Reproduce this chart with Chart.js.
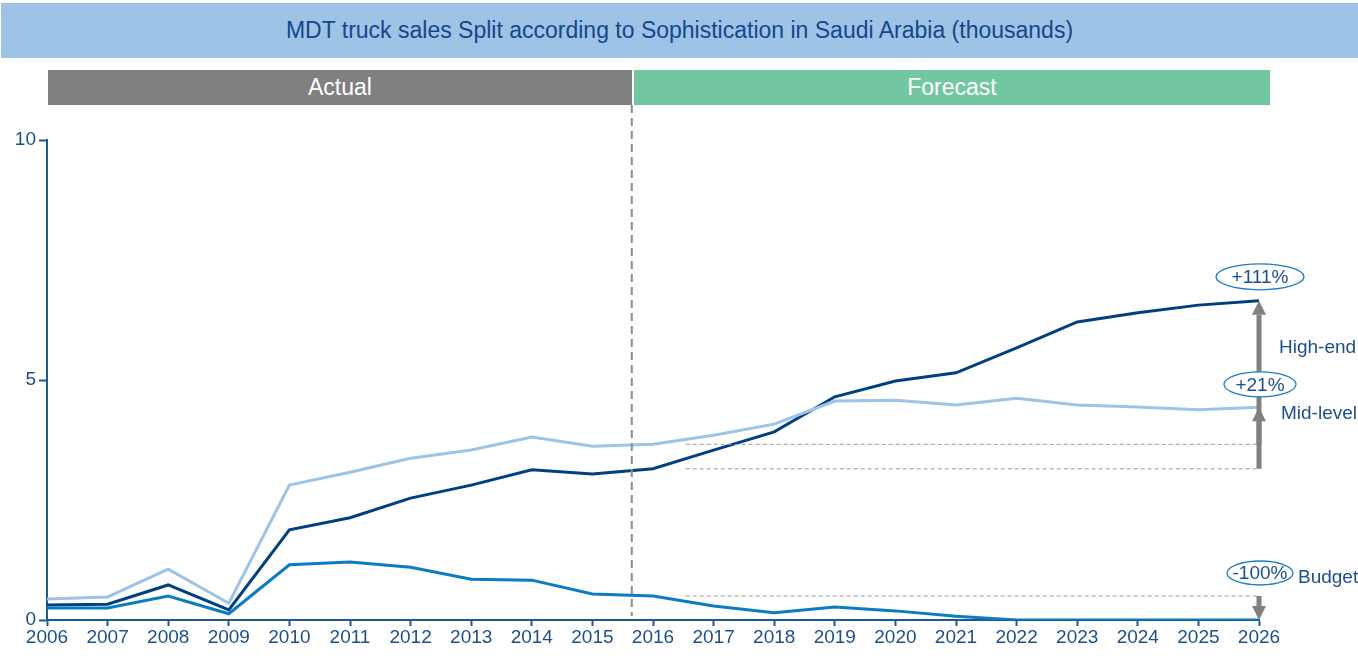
<!DOCTYPE html>
<html>
<head>
<meta charset="utf-8">
<script src="https://cdn.jsdelivr.net/npm/chart.js@4/dist/chart.umd.min.js"></script>
<style>
  body { margin: 0; background: #fff; font-family: "Liberation Sans", Arial, sans-serif; }
  #wrap { position: relative; width: 1358px; height: 658px; }
  .band { position: absolute; display: flex; align-items: center; justify-content: center; }
  #title { left: 1px; top: 3px; width: 1357px; height: 55px; background: #9dc3e6; color: #17478a; font-size: 23px; }
  #actual { left: 48px; top: 70px; width: 584px; height: 35px; background: #808080; color: #fff; font-size: 23px; }
  #forecast { left: 634px; top: 70px; width: 636px; height: 35px; background: #72c7a0; color: #fff; font-size: 23px; }
  canvas { position: absolute; left: 0; top: 0; }
</style>
</head>
<body>
<div id="wrap">
  <canvas id="chart" width="1358" height="658"></canvas>
  <div class="band" id="title">MDT truck sales Split according to Sophistication in Saudi Arabia (thousands)</div>
  <div class="band" id="actual">Actual</div>
  <div class="band" id="forecast">Forecast</div>
</div>
<script>
const years = ["2006", "2007", "2008", "2009", "2010", "2011", "2012", "2013", "2014", "2015", "2016",
               "2017", "2018", "2019", "2020", "2021", "2022", "2023", "2024", "2025", "2026"];
const highEnd = [0.31, 0.33, 0.73, 0.21, 1.88, 2.13, 2.54, 2.81, 3.13, 3.04, 3.15,
                 3.54, 3.92, 4.65, 4.98, 5.15, 5.67, 6.21, 6.40, 6.56, 6.65];
const midLevel = [0.44, 0.48, 1.06, 0.35, 2.81, 3.08, 3.37, 3.54, 3.81, 3.62, 3.66,
                  3.85, 4.08, 4.56, 4.58, 4.48, 4.62, 4.48, 4.44, 4.38, 4.43];
const budget = [0.25, 0.25, 0.50, 0.13, 1.15, 1.21, 1.10, 0.85, 0.83, 0.54, 0.50,
                0.29, 0.15, 0.27, 0.19, 0.08, 0, 0, 0, 0, 0];
const yTicks = [0, 5, 10];
const growthLabels = ["+111%", "+21%", "-100%"];
const seriesNames = ["High-end", "Mid-level", "Budget"];

const axisColor = "#1c5a96";
const textColor = "#1d4f8b";
const font = "'Liberation Sans', Arial, sans-serif";

// dashed split line, comparison guides, arrows and growth bubbles
const overlay = {
  id: "overlay",
  afterDatasetsDraw(chart) {
    const ctx = chart.ctx;
    const x = chart.scales.x, y = chart.scales.y;
    const base = years.indexOf("2016"), last = years.length - 1;
    const xEnd = x.getPixelForValue(last);

    ctx.save();
    // actual / forecast divider
    ctx.strokeStyle = "#8c8c8c";
    ctx.lineWidth = 2;
    ctx.setLineDash([8, 5]);
    const xs = x.getPixelForValue(9.65);
    ctx.beginPath();
    ctx.moveTo(xs, 105);
    ctx.lineTo(xs, y.getPixelForValue(0) - 4);
    ctx.stroke();

    // 2016 reference guides
    ctx.lineWidth = 1;
    ctx.strokeStyle = "#9a9a9a";
    ctx.setLineDash([4, 3]);
    const xg = x.getPixelForValue(base + 0.54);
    [highEnd[base], midLevel[base], budget[base]].forEach(v => {
      const py = y.getPixelForValue(v);
      ctx.beginPath();
      ctx.moveTo(xg, py);
      ctx.lineTo(xEnd, py);
      ctx.stroke();
    });
    ctx.setLineDash([]);

    // arrows
    ctx.strokeStyle = "#808080";
    ctx.fillStyle = "#808080";
    ctx.lineWidth = 5;
    function arrow(fromV, toV) {
      const y0 = y.getPixelForValue(fromV), y1 = y.getPixelForValue(toV);
      const dir = y1 < y0 ? 1 : -1;
      const head = 14;
      ctx.beginPath();
      ctx.moveTo(xEnd, y0);
      ctx.lineTo(xEnd, y1 + dir * head);
      ctx.stroke();
      ctx.beginPath();
      ctx.moveTo(xEnd, y1);
      ctx.lineTo(xEnd - 7, y1 + dir * head);
      ctx.lineTo(xEnd + 7, y1 + dir * head);
      ctx.closePath();
      ctx.fill();
    }
    arrow(highEnd[base], highEnd[last]);
    arrow(midLevel[base], midLevel[last]);
    arrow(budget[base], budget[last]);

    // growth bubbles and series names
    ctx.font = "19px " + font;
    ctx.textBaseline = "middle";
    const bubbles = [
      { v: highEnd[last], dy: -24, w: 88, h: 26, ny: 71, nx: 20 },
      { v: midLevel[last], dy: -23, w: 72, h: 25, ny: 29, nx: 22 },
      { v: budget[last], dy: -47, w: 66, h: 24, ny: 5, nx: 39 }
    ];
    bubbles.forEach((b, i) => {
      const cy = y.getPixelForValue(b.v) + b.dy;
      ctx.fillStyle = "#fff";
      ctx.strokeStyle = "#1a7ec5";
      ctx.lineWidth = 1.3;
      ctx.beginPath();
      ctx.ellipse(xEnd + 1, cy, b.w / 2, b.h / 2, 0, 0, Math.PI * 2);
      ctx.fill();
      ctx.stroke();
      ctx.fillStyle = textColor;
      ctx.textAlign = "center";
      ctx.fillText(growthLabels[i], xEnd + 1, cy + 1);
      ctx.textAlign = "left";
      ctx.fillText(seriesNames[i], xEnd + b.nx, cy + b.ny);
    });
    ctx.restore();
  }
};

function line(data, color) {
  return { data: data, borderColor: color, borderWidth: 3, pointRadius: 0, tension: 0, fill: false };
}

new Chart(document.getElementById("chart"), {
  type: "line",
  data: {
    labels: years,
    datasets: [
      line(midLevel, "#9dc3e6"),
      line(budget, "#0a7cc2"),
      line(highEnd, "#003f80")
    ]
  },
  options: {
    responsive: false,
    animation: false,
    layout: { padding: { top: 140, right: 99, left: 0, bottom: 0 } },
    plugins: { legend: { display: false }, tooltip: { enabled: false } },
    scales: {
      x: {
        offset: false,
        border: { color: axisColor, width: 2 },
        grid: { display: true, drawOnChartArea: false, tickLength: 6, color: axisColor, tickWidth: 2 },
        ticks: { color: textColor, font: { size: 19, family: font }, maxRotation: 0, autoSkip: false, padding: 0 },
        afterFit(s) { s.height = 38; }
      },
      y: {
        min: 0, max: 10,
        afterBuildTicks(s) { s.ticks = yTicks.map(v => ({ value: v })); },
        border: { color: axisColor, width: 2 },
        grid: { display: true, drawOnChartArea: false, tickLength: 8, color: axisColor, tickWidth: 2 },
        ticks: { color: textColor, font: { size: 19, family: font }, padding: 3 },
        afterFit(s) { s.width = 47; }
      }
    }
  },
  plugins: [overlay]
});
</script>
</body>
</html>
